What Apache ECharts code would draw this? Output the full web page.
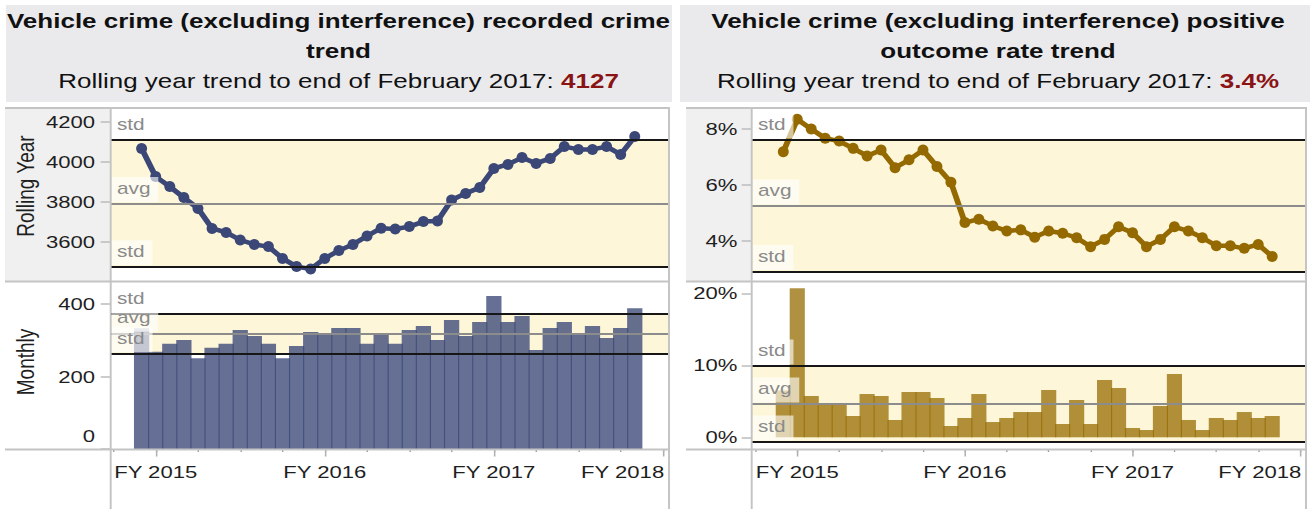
<!DOCTYPE html>
<html>
<head>
<meta charset="utf-8">
<script src="https://cdn.jsdelivr.net/npm/echarts@6/dist/echarts.min.js"></script>
<style>
html,body{margin:0;padding:0;overflow:hidden;background:#fff;}
#c{width:1011px;height:509px;transform:scaleX(1.3);transform-origin:0 0;}
</style>
</head>
<body>
<div id="c"></div>
<script>
// ---------------- DATA ----------------
const months = ['Mar 2014','Apr 2014','May 2014','Jun 2014','Jul 2014','Aug 2014','Sep 2014','Oct 2014','Nov 2014','Dec 2014',
  'Jan 2015','Feb 2015','Mar 2015','Apr 2015','May 2015','Jun 2015','Jul 2015','Aug 2015','Sep 2015','Oct 2015','Nov 2015','Dec 2015',
  'Jan 2016','Feb 2016','Mar 2016','Apr 2016','May 2016','Jun 2016','Jul 2016','Aug 2016','Sep 2016','Oct 2016','Nov 2016','Dec 2016',
  'Jan 2017','Feb 2017'];
const rollingCount = [4068,3927,3877,3822,3768,3668,3648,3610,3588,3577,3518,3477,3465,3518,3557,3588,3630,3669,3665,3677,3702,3705,3810,3843,3872,3968,3988,4022,3993,4018,4077,4063,4063,4077,4038,4127];
const monthlyCount = [333,268,290,301,250,279,290,328,312,290,250,284,323,317,334,334,290,316,290,328,339,301,356,312,350,422,350,367,273,334,350,317,339,306,334,388];
const rollingRate = [7.17,8.33,7.98,7.65,7.55,7.29,7.02,7.23,6.60,6.88,7.23,6.64,6.08,4.64,4.76,4.52,4.34,4.38,4.12,4.34,4.26,4.10,3.78,4.04,4.49,4.28,3.78,4.04,4.49,4.34,4.10,3.81,3.81,3.72,3.86,3.43];
const monthlyRate = [6.5,20.7,5.74,4.49,4.49,2.96,6.01,5.74,2.40,6.29,6.29,5.46,1.57,2.68,6.01,2.12,2.68,3.51,3.51,6.57,1.85,5.18,1.85,7.96,6.85,1.29,1.01,4.35,8.79,2.40,1.01,2.68,2.40,3.51,2.68,2.96];

// reference bands: [lower std, avg, upper std]
const rollingCountBand = [3476, 3792, 4109];
const monthlyCountBand = [263, 319, 372];
const rollingRateBand = [2.89, 5.23, 7.59];
const monthlyRateBand = [-0.65, 4.62, 9.90];

// ticks (month index positions in the months list; -2 = Jan 2014, 37 = Apr 2017)
const fyLabels = ['FY 2015','FY 2016','FY 2017','FY 2018'];
const fyTickMonth = [1, 13, 25, 37];
const quarterTickMonth = [-2,1,4,7,10,13,16,19,22,25,28,31,34,37];
const rollingCountTicks = [3600, 3800, 4000, 4200];
const monthlyCountTicks = [0, 200, 400];
const rollingRateTicks = [4, 6, 8];
const monthlyRateTicks = [0, 10, 20];

const leftTitle = ['Vehicle crime (excluding interference) recorded crime', 'trend'];
const rightTitle = ['Vehicle crime (excluding interference) positive', 'outcome rate trend'];
const subtitlePrefix = 'Rolling year trend to end of February 2017: ';

// ---------------- LAYOUT / STYLE ----------------
const FONT = "'Liberation Sans', Arial, sans-serif";
const SX = 1.3;                 // page is stretched horizontally by CSS
const px = v => v / SX;
const C = {
  navy: '#3b4877', gold: '#946a00', band: '#fdf6d8', std: '#161616', avg: '#8c8c8c',
  border: '#c4c4c4', header: '#f0f0f0', titleBg: '#eaeaed', text: '#1e1e1e', red: '#8a1414', refText: '#8a8a8a'
};
const P = {
  L: { x0: px(110.7), x1: px(669), hx: px(5), xmin: -2.193, xmax: 37.43, cx: px(338.5), tx0: px(6), tx1: px(672) },
  R: { x0: px(751.7), x1: px(1306), hx: px(686), xmin: -2.262, xmax: 37.42, cx: px(998), tx0: px(680), tx1: px(1310) },
  top: { y0: 109, y1: 281 },
  bot: { y0: 282.5, y1: 449.5 }
};
const Y = {
  lt: [3405, 4265], lb: [-1.38, 459.3], rt: [2.554, 8.696], rb: [-1.694, 21.5]
};

const pts = arr => arr.map((v, i) => [i, v]);

function grid(side, row) {
  return { left: P[side].x0, width: P[side].x1 - P[side].x0, top: P[row].y0, height: P[row].y1 - P[row].y0, containLabel: false };
}

function xHidden(gi, side) {
  return { type: 'value', gridIndex: gi, min: P[side].xmin, max: P[side].xmax, show: false };
}
function xZeroLine(gi, side) {
  return { type: 'value', gridIndex: gi, min: P[side].xmin, max: P[side].xmax, position: 'bottom',
    axisLine: { show: true, onZero: true, lineStyle: { color: '#b5b5b5', width: 1.5 } },
    axisTick: { show: false }, axisLabel: { show: false }, splitLine: { show: false } };
}
function xMinor(gi, side) {
  return { type: 'value', gridIndex: gi, min: P[side].xmin, max: P[side].xmax, position: 'bottom',
    axisLine: { show: false, onZero: false }, splitLine: { show: false },
    axisTick: { show: true, customValues: quarterTickMonth, length: 2.5, lineStyle: { color: '#9a9a9a', width: 1 } },
    axisLabel: { show: false } };
}
function xMajor(gi, side) {
  return { type: 'value', gridIndex: gi, min: P[side].xmin, max: P[side].xmax, position: 'bottom',
    axisLine: { show: false, onZero: false }, splitLine: { show: false },
    axisTick: { show: true, customValues: fyTickMonth, length: 7, lineStyle: { color: '#b0b0b0', width: 1.2 } },
    axisLabel: { show: true, customValues: fyTickMonth, margin: 14, color: C.text, fontSize: 17, fontFamily: FONT,
      formatter: v => {
        const k = fyTickMonth.indexOf(Math.round(v));
        if (k < 0) return '';
        return k === fyTickMonth.length - 1 ? '{e|' + fyLabels[k] + '}' : fyLabels[k];
      },
      rich: { e: { fontSize: 17, fontFamily: FONT, color: C.text, padding: [0, 62, 0, 0] } } } };
}
function yAx(gi, range, ticks, fmt, margin) {
  return { type: 'value', gridIndex: gi, min: range[0], max: range[1],
    axisLine: { show: false, onZero: false }, splitLine: { show: false },
    axisTick: { show: true, customValues: ticks, length: px(10), lineStyle: { color: '#bcbcbc', width: 1.5 } },
    axisLabel: { show: true, customValues: ticks, formatter: fmt, margin: margin, color: C.text, fontSize: 17, fontFamily: FONT,
      rich: { z: { fontSize: 17, fontFamily: FONT, color: C.text, padding: [0, 0, 26, 0] } } } };
}

function refMarks(band) {
  const [lo, avg, hi] = band;
  return {
    markArea: { silent: true, label: { show: false }, itemStyle: { color: C.band }, data: [[{ yAxis: lo }, { yAxis: hi }]] },
    markLine: {
      silent: true, symbol: ['none', 'none'], animation: false,
      label: { show: true, position: 'insideStartTop', formatter: '{b}', color: C.refText, fontSize: 16, fontFamily: FONT,
        lineHeight: 18, backgroundColor: 'rgba(255,255,255,0.62)', padding: [2, 6, 5, 4], distance: [0.8, 1.5] },
      data: [
        { name: 'std', yAxis: hi, lineStyle: { color: C.std, width: 2, type: 'solid' } },
        { name: 'avg', yAxis: avg, lineStyle: { color: C.avg, width: 2, type: 'solid' } },
        { name: 'std', yAxis: lo, lineStyle: { color: C.std, width: 2, type: 'solid' } }
      ]
    }
  };
}

const monthWL = (P.L.x1 - P.L.x0) / (P.L.xmax - P.L.xmin);
const monthWR = (P.R.x1 - P.R.x0) / (P.R.xmax - P.R.xmin);

function titleOpt(cx, lines, value) {
  return {
    left: cx, top: 6, textAlign: 'center', padding: 0,
    text: '{b|' + lines[0] + '}\n{b|' + lines[1] + '}\n{n|' + subtitlePrefix + '}{r|' + value + '}',
    textStyle: { fontWeight: 'normal', rich: {
      b: { fontFamily: FONT, fontSize: 20, fontWeight: 'bold', color: '#111', lineHeight: 30 },
      n: { fontFamily: FONT, fontSize: 20, fontWeight: 'normal', color: '#111', lineHeight: 30 },
      r: { fontFamily: FONT, fontSize: 20, fontWeight: 'bold', color: C.red, lineHeight: 30 }
    } }
  };
}

function hline(x0, x1, y) {
  return { type: 'line', z: 20, silent: true, shape: { x1: x0, y1: y, x2: x1, y2: y }, style: { stroke: C.border, lineWidth: 2 } };
}
function vline(x, y0, y1) {
  return { type: 'line', z: 20, silent: true, shape: { x1: x, y1: y0, x2: x, y2: y1 }, style: { stroke: C.border, lineWidth: 1.5 } };
}
function rect(x, y, w, h, fill) {
  return { type: 'rect', z: -10, silent: true, shape: { x: x, y: y, width: w, height: h }, style: { fill: fill } };
}

const graphics = [
  rect(P.L.tx0, 5, P.L.tx1 - P.L.tx0, 97, C.titleBg),
  rect(P.R.tx0, 5, P.R.tx1 - P.R.tx0, 97, C.titleBg),
  rect(P.L.hx, P.top.y0, P.L.x0 - P.L.hx, P.top.y1 - P.top.y0, C.header),
  rect(P.R.hx, P.top.y0, P.R.x0 - P.R.hx, P.top.y1 - P.top.y0, C.header),
  hline(P.L.hx, P.L.x1, 108), hline(P.L.hx, P.L.x1, 281.5), hline(P.L.hx, P.L.x1, 449.5),
  vline(P.L.x0, 107, 509), vline(P.L.x1, 107, 509),
  hline(P.R.hx, P.R.x1, 108), hline(P.R.hx, P.R.x1, 281.5), hline(P.R.hx, P.R.x1, 449.5),
  vline(P.R.x0, 107, 509), vline(P.R.x1, 107, 509),
  { type: 'text', z: 5, silent: true, x: px(26), y: 186, rotation: Math.PI / 2,
    style: { text: 'Rolling Year', font: '19px ' + FONT, fill: C.text, align: 'center', verticalAlign: 'middle' } },
  { type: 'text', z: 5, silent: true, x: px(26), y: 362, rotation: Math.PI / 2,
    style: { text: 'Monthly', font: '19px ' + FONT, fill: C.text, align: 'center', verticalAlign: 'middle' } }
];

const option = {
  animation: false,
  textStyle: { fontFamily: FONT },
  title: [
    titleOpt(P.L.cx, leftTitle, String(rollingCount[rollingCount.length - 1])),
    titleOpt(P.R.cx, rightTitle, rollingRate[rollingRate.length - 1].toFixed(1) + '%')
  ],
  graphic: { elements: graphics },
  grid: [grid('L', 'top'), grid('L', 'bot'), grid('R', 'top'), grid('R', 'bot')],
  xAxis: [xHidden(0, 'L'), xMinor(1, 'L'), xMajor(1, 'L'), xHidden(2, 'R'), xMinor(3, 'R'), xMajor(3, 'R'), xZeroLine(3, 'R')],
  yAxis: [
    yAx(0, Y.lt, rollingCountTicks, v => String(v), 12),
    yAx(1, Y.lb, monthlyCountTicks, v => (v === 0 ? '{z|0}' : String(v)), 12),
    yAx(2, Y.rt, rollingRateTicks, v => v + '%', 11),
    yAx(3, Y.rb, monthlyRateTicks, v => v + '%', 11)
  ],
  series: [
    Object.assign({ type: 'line', name: 'Rolling Year', xAxisIndex: 0, yAxisIndex: 0, data: pts(rollingCount),
      symbol: 'circle', symbolSize: [8.4, 11], lineStyle: { width: 4.5, color: C.navy }, itemStyle: { color: C.navy } },
      refMarks(rollingCountBand)),
    Object.assign({ type: 'bar', name: 'Monthly', xAxisIndex: 1, yAxisIndex: 1, data: pts(monthlyCount),
      barWidth: monthWL + 0.9, itemStyle: { color: C.navy, opacity: 0.78 } },
      refMarks(monthlyCountBand)),
    Object.assign({ type: 'line', name: 'Rolling Year rate', xAxisIndex: 3, yAxisIndex: 2, data: pts(rollingRate),
      symbol: 'circle', symbolSize: [8.4, 11], lineStyle: { width: 4.5, color: C.gold }, itemStyle: { color: C.gold } },
      refMarks(rollingRateBand)),
    Object.assign({ type: 'bar', name: 'Monthly rate', xAxisIndex: 4, yAxisIndex: 3, data: pts(monthlyRate),
      barWidth: monthWR + 0.9, itemStyle: { color: C.gold, opacity: 0.74 } },
      refMarks(monthlyRateBand))
  ]
};

const chart = echarts.init(document.getElementById('c'), null, { renderer: 'svg', width: 1011, height: 509 });
chart.setOption(option);
</script>
</body>
</html>
